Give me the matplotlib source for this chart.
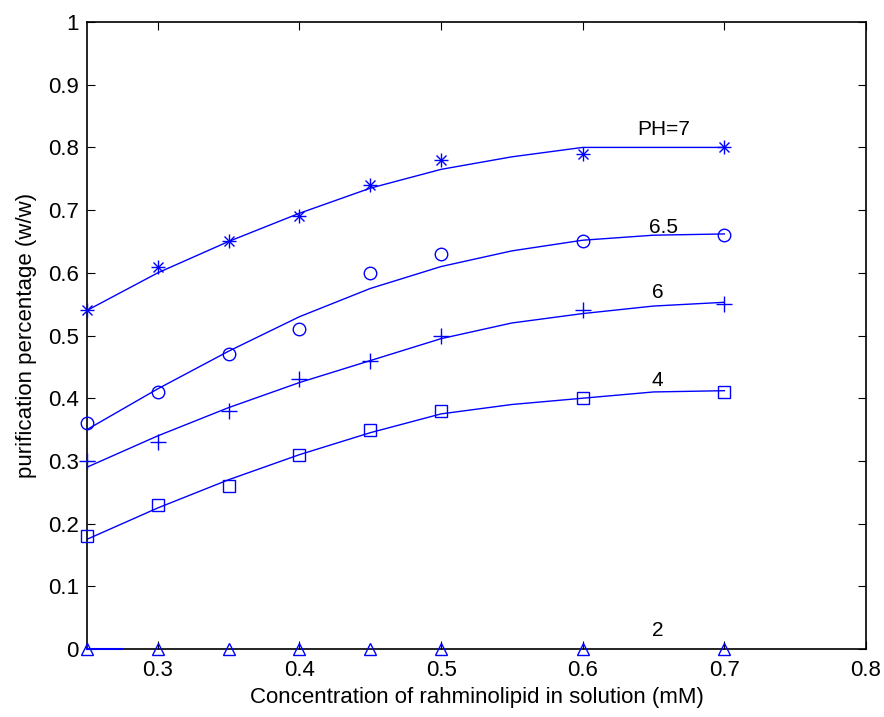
import numpy as np
import matplotlib.pyplot as plt

# measured points
conc = [0.25, 0.3, 0.35, 0.4, 0.45, 0.5, 0.6, 0.7]
ph7 = [0.54, 0.61, 0.65, 0.69, 0.74, 0.78, 0.79, 0.80]
ph65 = [0.36, 0.41, 0.47, 0.51, 0.60, 0.63, 0.65, 0.66]
ph6 = [0.30, 0.33, 0.38, 0.43, 0.46, 0.50, 0.54, 0.55]
ph4 = [0.18, 0.23, 0.26, 0.31, 0.35, 0.38, 0.40, 0.41]
ph2 = [0, 0, 0, 0, 0, 0, 0, 0]

# fitted curves
fit_x = [0.25, 0.3, 0.35, 0.4, 0.45, 0.5, 0.55, 0.6, 0.65, 0.7]
fit7 = [0.54, 0.600, 0.650, 0.695, 0.735, 0.765, 0.785, 0.800, 0.800, 0.800]
fit65 = [0.35, 0.415, 0.475, 0.530, 0.575, 0.610, 0.635, 0.652, 0.660, 0.662]
fit6 = [0.29, 0.340, 0.385, 0.425, 0.460, 0.495, 0.520, 0.535, 0.547, 0.553]
fit4 = [0.175, 0.225, 0.270, 0.310, 0.345, 0.375, 0.390, 0.400, 0.410, 0.412]
fit2_x = [0.25, 0.275]
fit2 = [0, 0]

labels = ["PH=7", "6.5", "6", "4", "2"]
label_x = [0.657, 0.657, 0.653, 0.653, 0.653]
label_y = [0.828, 0.673, 0.568, 0.429, 0.03]

plt.rcParams['font.family'] = ['Liberation Sans', 'DejaVu Sans']

fig = plt.figure(figsize=(8.84, 7.17), dpi=100)
ax = fig.add_axes([0.0984, 0.0948, 0.8812, 0.8745])

blue = (0, 0, 1)
mk_kw = dict(linestyle='none', mfc='none', mec=blue, mew=1.0, clip_on=False, zorder=5)

ax.plot(fit_x, fit7, color=blue, lw=1.0)
ax.plot(conc, ph7, marker='+', ms=10, **mk_kw)
ax.plot(conc, ph7, marker='x', ms=7.5, **mk_kw)

ax.plot(fit_x, fit65, color=blue, lw=1.0)
ax.plot(conc, ph65, marker='o', ms=9, **mk_kw)

ax.plot(fit_x, fit6, color=blue, lw=1.0)
ax.plot(conc, ph6, marker='+', ms=11, **mk_kw)

ax.plot(fit_x, fit4, color=blue, lw=1.0)
ax.plot(conc, ph4, marker='s', ms=9, **mk_kw)

ax.plot(fit2_x, fit2, color=blue, lw=1.5, clip_on=False, zorder=4)
ax.plot(conc, ph2, marker='^', ms=8, **mk_kw)

for t, lx, ly in zip(labels, label_x, label_y):
    ax.text(lx, ly, t, ha='center', va='center', fontsize=15)

ax.set_xlim(0.25, 0.8)
ax.set_ylim(0, 1)
ax.set_xticks([0.3, 0.4, 0.5, 0.6, 0.7, 0.8])
ax.set_xticklabels(["0.3", "0.4", "0.5", "0.6", "0.7", "0.8"])
ax.set_yticks(np.arange(0, 1.01, 0.1))
ax.set_yticklabels(["0", "0.1", "0.2", "0.3", "0.4", "0.5", "0.6", "0.7", "0.8", "0.9", "1"])
ax.tick_params(direction='in', top=True, right=True, length=6, labelsize=16)
ax.tick_params(axis='x', pad=8)
ax.tick_params(axis='y', pad=6)
for s in ax.spines.values():
    s.set_linewidth(1.2)

ax.set_xlabel("Concentration of rahminolipid in solution (mM)", fontsize=16, labelpad=4)
ax.set_ylabel("purification percentage (w/w)", fontsize=16, labelpad=8)

fig.savefig("out.png", dpi=100)
